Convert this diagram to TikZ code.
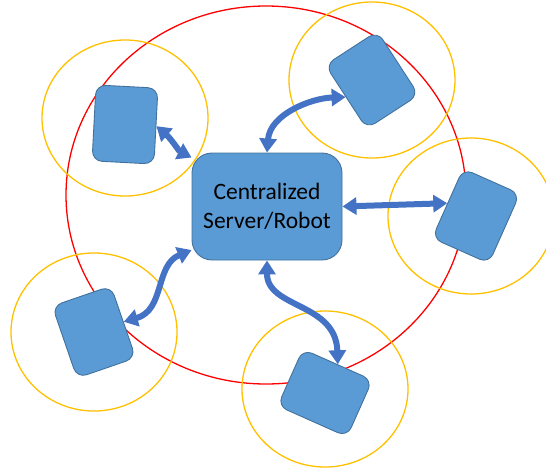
\documentclass[tikz,border=0pt]{standalone}
\usepackage{fontspec}
\setmainfont{Carlito}
\usetikzlibrary{arrows.meta}
\definecolor{boxfill}{HTML}{5B9BD5}
\definecolor{boxline}{HTML}{41719C}
\definecolor{linkblue}{HTML}{4472C4}
\definecolor{rangeorange}{HTML}{FFC000}
\tikzset{
  robot/.style={draw=boxline, fill=boxfill, line width=0.9pt, rounded corners=10pt,
    minimum width=62pt, minimum height=76pt, inner sep=0pt},
  server/.style={draw=boxline, fill=boxfill, line width=0.9pt, rounded corners=20pt,
    minimum width=150pt, minimum height=107pt, inner sep=0pt, align=center,
    font=\fontsize{23.5}{29}\selectfont},
  robotrange/.style={draw=rangeorange, line width=1.3pt},
  coverage/.style={draw=red, line width=1.3pt},
  twoway/.style={draw=linkblue, line width=6pt,
    {Triangle[width=17pt,length=14pt]}-{Triangle[width=17pt,length=14pt]}}
}
\begin{document}
\begin{tikzpicture}[x=1pt,y=-1pt]
  \useasboundingbox (0,0) rectangle (546,469);
  % overall coverage of the central unit
  \draw[coverage] (266,195) ellipse [x radius=200, y radius=189];
  % local ranges of the robots
  \draw[robotrange] (125,118) ellipse [x radius=83, y radius=78];
  \draw[robotrange] (372,80) ellipse [x radius=83, y radius=78];
  \draw[robotrange] (471,216) ellipse [x radius=83, y radius=78];
  \draw[robotrange] (94,332) ellipse [x radius=83, y radius=79];
  \draw[robotrange] (325,389) ellipse [x radius=83, y radius=78];
  % central unit and robots
  \node[server] (srv) at (267,206.5) {Centralized\\Server/Robot};
  \node[robot, rotate=-3] (r1) at (125,124.5) {};
  \node[robot, rotate=33] (r2) at (372,80) {};
  \node[robot, rotate=-24] (r3) at (476,216) {};
  \node[robot, rotate=19] (r4) at (94,332) {};
  \node[robot, rotate=-24, minimum width=76pt, minimum height=62pt] (r5) at (325,393) {};
  % two-way links
  \draw[twoway] (r1.east) .. controls +(14,12) and +(-12,-6) .. (srv.147);
  \draw[twoway] (srv.north) .. controls +(3,-38) and +(-35,1) .. (r2.west);
  \draw[twoway] (srv.east) -- (r3.west);
  \draw[twoway] (srv.210) .. controls (155,265) and (165,310) .. (r4.east);
  \draw[twoway] (srv.south) .. controls +(0,48) and +(-2,-62) .. (r5.north);
\end{tikzpicture}
\end{document}
